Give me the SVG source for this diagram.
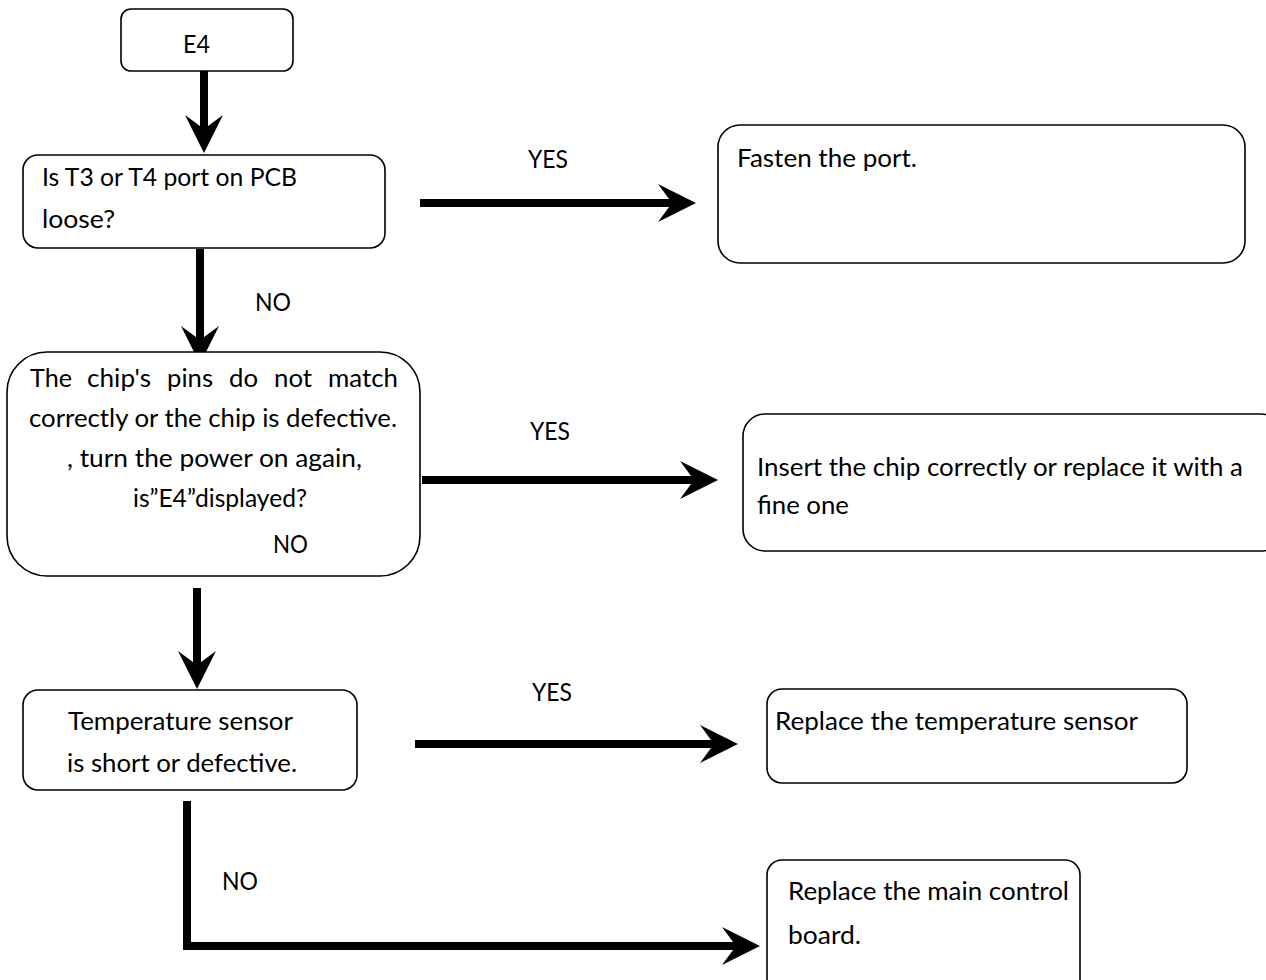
<svg xmlns="http://www.w3.org/2000/svg" xmlns:xlink="http://www.w3.org/1999/xlink" width="1266" height="980" viewBox="0 0 1266 980">
  <style>
    .box { fill: #ffffff; stroke: #000000; stroke-width: 1.6; }
    .line { fill: none; stroke: #000000; stroke-width: 8; }
    .head { fill: #000000; }
    text { font-family: Lato, "Open Sans", "Liberation Sans", sans-serif; font-size: 25.5px; fill: #000000; }
  </style>
  <defs>
    <!-- barbed arrowhead pointing along +x, tip at the origin -->
    <path id="ah" class="head" d="M0,0 L-38,-19 L-24,0 L-38,19 Z"/>
  </defs>
  <rect width="1266" height="980" fill="#ffffff"/>

  <g id="connectors">
    <path class="line" d="M204,71 V135"/>
    <use xlink:href="#ah" transform="translate(204,153) rotate(90)"/>

    <path class="line" d="M200,249 V345"/>
    <use xlink:href="#ah" transform="translate(200,364) rotate(90)"/>

    <path class="line" d="M197,588 V670"/>
    <use xlink:href="#ah" transform="translate(197,689) rotate(90)"/>

    <path class="line" d="M420,203 H675"/>
    <use xlink:href="#ah" transform="translate(696,203)"/>

    <path class="line" d="M422,480 H698"/>
    <use xlink:href="#ah" transform="translate(718,480)"/>

    <path class="line" d="M415,744 H718"/>
    <use xlink:href="#ah" transform="translate(738,744)"/>

    <path class="line" d="M187,801 V946 H740" stroke-linejoin="miter"/>
    <use xlink:href="#ah" transform="translate(760,946)"/>

    <text x="528" y="168" textLength="40" lengthAdjust="spacingAndGlyphs">YES</text>
    <text x="530" y="440" textLength="40" lengthAdjust="spacingAndGlyphs">YES</text>
    <text x="532" y="701" textLength="40" lengthAdjust="spacingAndGlyphs">YES</text>
    <text x="255" y="311" textLength="36" lengthAdjust="spacingAndGlyphs">NO</text>
    <text x="222" y="890" textLength="36" lengthAdjust="spacingAndGlyphs">NO</text>
  </g>

  <g id="n-e4">
    <rect class="box" x="121" y="9" width="172" height="62" rx="10"/>
    <text x="183" y="53" textLength="27" lengthAdjust="spacingAndGlyphs">E4</text>
  </g>

  <g id="n-port">
    <rect class="box" x="23" y="155" width="362" height="93" rx="15"/>
    <text x="42" y="186" textLength="255" lengthAdjust="spacingAndGlyphs">Is T3 or T4 port on PCB</text>
    <text x="42" y="228" textLength="73" lengthAdjust="spacingAndGlyphs">loose?</text>
  </g>

  <g id="n-chip">
    <rect class="box" x="7" y="352" width="413" height="224" rx="40"/>
    <text y="387"><tspan x="30" textLength="42" lengthAdjust="spacingAndGlyphs">The</tspan><tspan x="87" textLength="64" lengthAdjust="spacingAndGlyphs">chip's</tspan><tspan x="167" textLength="46" lengthAdjust="spacingAndGlyphs">pins</tspan><tspan x="229" textLength="29" lengthAdjust="spacingAndGlyphs">do</tspan><tspan x="274" textLength="38" lengthAdjust="spacingAndGlyphs">not</tspan><tspan x="328" textLength="70" lengthAdjust="spacingAndGlyphs">match</tspan></text>
    <text x="29" y="427" textLength="368" lengthAdjust="spacingAndGlyphs">correctly or the chip is defective.</text>
    <text x="67" y="467" textLength="295" lengthAdjust="spacingAndGlyphs">, turn the power on again,</text>
    <text x="133" y="507" textLength="174" lengthAdjust="spacingAndGlyphs">is”E4”displayed?</text>
    <text x="273" y="553" textLength="35" lengthAdjust="spacingAndGlyphs">NO</text>
  </g>

  <g id="n-temp">
    <rect class="box" x="23" y="690" width="334" height="100" rx="15"/>
    <text x="68" y="730" textLength="225" lengthAdjust="spacingAndGlyphs">Temperature sensor</text>
    <text x="67" y="772" textLength="230" lengthAdjust="spacingAndGlyphs">is short or defective.</text>
  </g>

  <g id="n-fasten">
    <rect class="box" x="718" y="125" width="527" height="138" rx="22"/>
    <text x="737" y="167" textLength="180" lengthAdjust="spacingAndGlyphs">Fasten the port.</text>
  </g>

  <g id="n-insert">
    <rect class="box" x="743" y="414" width="540" height="137" rx="22"/>
    <text x="757" y="476" textLength="486" lengthAdjust="spacingAndGlyphs">Insert the chip correctly or replace it with a</text>
    <text x="757" y="514" textLength="92" lengthAdjust="spacingAndGlyphs">fine one</text>
  </g>

  <g id="n-sensor">
    <rect class="box" x="767" y="689" width="420" height="94" rx="15"/>
    <text x="775" y="730" textLength="363" lengthAdjust="spacingAndGlyphs">Replace the temperature sensor</text>
  </g>

  <g id="n-board">
    <rect class="box" x="767" y="860" width="313" height="140" rx="15"/>
    <text x="788" y="900" textLength="281" lengthAdjust="spacingAndGlyphs">Replace the main control</text>
    <text x="788" y="944" textLength="73" lengthAdjust="spacingAndGlyphs">board.</text>
  </g>
</svg>
